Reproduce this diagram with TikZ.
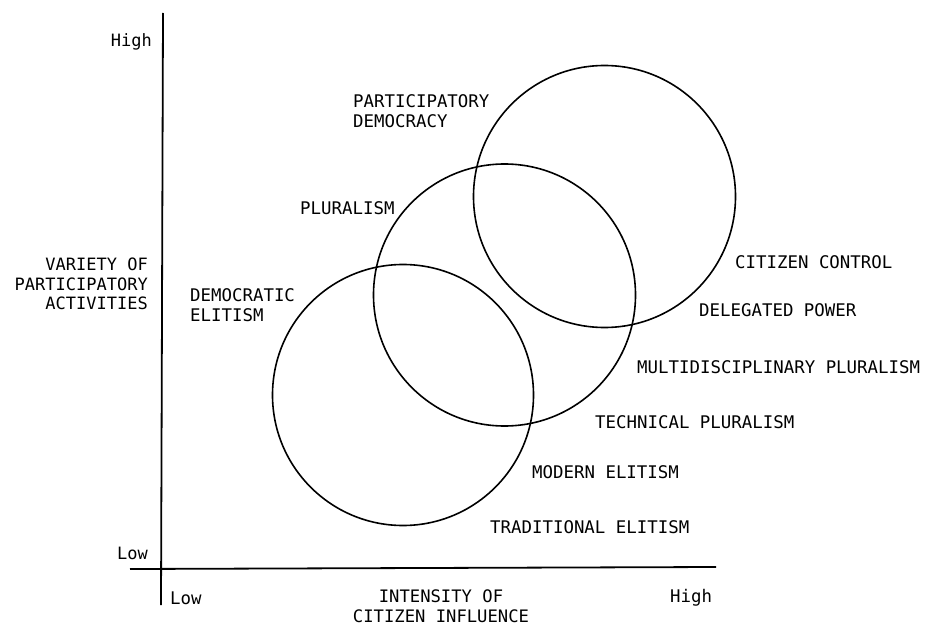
\documentclass[tikz,border=0pt]{standalone}
\usepackage{fontspec}
\setmonofont{DejaVu Sans Mono}
\begin{document}
\begin{tikzpicture}[x=1pt,y=-1pt,
  lbl/.style={font=\ttfamily\fontsize{17.4}{19.5}\selectfont, inner sep=0pt, align=left, anchor=west},
  lblr/.style={font=\ttfamily\fontsize{17}{19.5}\selectfont, inner sep=0pt, align=right, anchor=east},
  lblc/.style={font=\ttfamily\fontsize{17.2}{19.5}\selectfont, inner sep=0pt, align=center},
  axis/.style={line width=1.8pt, black},
  ring/.style={line width=1.6pt, black}]
\useasboundingbox (0,0) rectangle (932,626);
% axes
\coordinate (ytop) at (163,13);
\coordinate (ybot) at (161,605);
\coordinate (xleft) at (130,569);
\coordinate (xright) at (716,567);
\draw[axis] (ytop) -- (ybot);
\draw[axis] (xleft) -- (xright);
% circles
\node[ring, draw, circle, minimum size=261pt, inner sep=0pt] (c1) at (403,395) {};
\node[ring, draw, circle, minimum size=262pt, inner sep=0pt] (c2) at (504.5,295) {};
\node[ring, draw, circle, minimum size=262pt, inner sep=0pt] (c3) at (604.5,196.5) {};
% axis labels
\node[lblr] (yhigh) at (152,42) {High};
\node[lblr] (ylow) at (148,553) {Low};
\node[lbl] (xlow) at (170,598) {Low};
\node[lbl] (xhigh) at (670,598) {High};
\node[lblr] (ytitle) at (148,284) {VARIETY OF\\PARTICIPATORY\\ACTIVITIES};
\node[lblc] (xtitle) at (441,606) {INTENSITY OF\\CITIZEN INFLUENCE};
% region labels
\node[lbl] (demel) at (190,305) {DEMOCRATIC\\ELITISM};
\node[lbl] (partdem) at (353,111) {PARTICIPATORY\\DEMOCRACY};
\node[lbl] (plur) at (300,208) {PLURALISM};
\node[lbl] (cc) at (735,262) {CITIZEN CONTROL};
\node[lbl] (dp) at (699,310) {DELEGATED POWER};
\node[lbl] (mp) at (637,367) {MULTIDISCIPLINARY PLURALISM};
\node[lbl] (tp) at (595,422) {TECHNICAL PLURALISM};
\node[lbl] (me) at (532,472) {MODERN ELITISM};
\node[lbl] (te) at (490,527) {TRADITIONAL ELITISM};
\end{tikzpicture}
\end{document}
